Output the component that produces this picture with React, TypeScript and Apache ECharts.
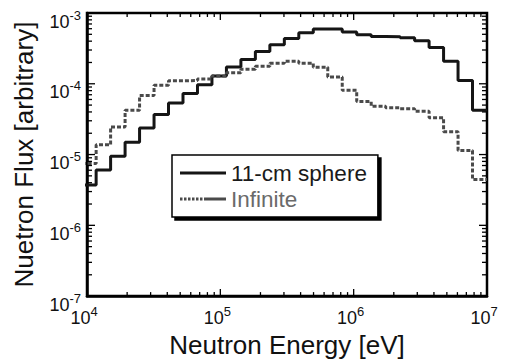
import React, { useEffect, useRef } from "react";
import * as echarts from "echarts";

// Bin edges (eV), equal-lethargy groups
const binEdges = [
  9119, 11709, 15034, 19305, 24788, 31828, 40868, 52475, 67379, 86517,
  111090, 142642, 183156, 235177, 301974, 387742, 497871, 639279, 820850,
  1053992, 1353353, 1737739, 2231302, 2865048, 3678794, 4723666, 6065307,
  7788008, 10000000,
];

// Flux per bin (arbitrary units)
const sphereFlux = [
  3.72e-6, 6.04e-6, 9.44e-6, 1.49e-5, 2.38e-5, 3.69e-5, 5.33e-5, 7.28e-5,
  9.67e-5, 1.29e-4, 1.72e-4, 2.21e-4, 2.86e-4, 3.57e-4, 4.37e-4, 5.24e-4,
  5.95e-4, 5.95e-4, 5.41e-4, 4.91e-4, 4.66e-4, 4.61e-4, 4.47e-4, 4.06e-4,
  3.25e-4, 2.08e-4, 1.11e-4, 4.22e-5,
];
const infiniteFlux = [
  7.46e-6, 1.37e-5, 2.46e-5, 4.22e-5, 6.81e-5, 9.55e-5, 1.1e-4, 1.11e-4,
  1.17e-4, 1.29e-4, 1.43e-4, 1.61e-4, 1.77e-4, 1.95e-4, 2.08e-4, 1.95e-4,
  1.71e-4, 1.25e-4, 8.07e-5, 5.62e-5, 4.8e-5, 4.59e-5, 4.44e-5, 4.09e-5,
  3.3e-5, 2.1e-5, 1.14e-5, 4.44e-6,
];

const seriesNames = ["11-cm sphere", "Infinite"];

const xMin = 1e4;
const xMax = 1e7;
const yMin = 1e-7;
const yMax = 1e-3;

const majorXTicks = [1e4, 1e5, 1e6, 1e7];
const minorXTicks = [
  2e4, 3e4, 4e4, 5e4, 6e4, 7e4, 8e4, 9e4,
  2e5, 3e5, 4e5, 5e5, 6e5, 7e5, 8e5, 9e5,
  2e6, 3e6, 4e6, 5e6, 6e6, 7e6, 8e6, 9e6,
];
const majorYTicks = [1e-7, 1e-6, 1e-5, 1e-4, 1e-3];
const minorYTicks = [
  2e-7, 3e-7, 4e-7, 5e-7, 6e-7, 7e-7, 8e-7, 9e-7,
  2e-6, 3e-6, 4e-6, 5e-6, 6e-6, 7e-6, 8e-6, 9e-6,
  2e-5, 3e-5, 4e-5, 5e-5, 6e-5, 7e-5, 8e-5, 9e-5,
  2e-4, 3e-4, 4e-4, 5e-4, 6e-4, 7e-4, 8e-4, 9e-4,
];

const FONT = "Liberation Sans, Arial, Helvetica, sans-serif";

const SOLID_ICON = "path://M0,0H46V3H0Z";
const DOTTED_ICON =
  "path://M0,0h2.5v3h-2.5z M4,0h2.5v3h-2.5z M8,0h2.5v3h-2.5z M12,0h2.5v3h-2.5z M16,0h2.5v3h-2.5z M20,0h2.5v3h-2.5z M24,0H46V3H24Z";

const toSteps = (vals: number[]) =>
  binEdges.map((e, i) => [e, vals[Math.min(i, vals.length - 1)]]);

const powLabel = (v: number) => {
  const e = Math.round(Math.log10(v));
  return "{b|10}{s|" + e + "}";
};

const richStyle = {
  b: { fontSize: 18, lineHeight: 22, verticalAlign: "bottom", color: "#111", fontFamily: FONT },
  s: { fontSize: 13, lineHeight: 15, verticalAlign: "top", color: "#111", fontFamily: FONT },
};

export default function App() {
  const ref = useRef<HTMLDivElement>(null);

  useEffect(() => {
    if (!ref.current) return;
    const chart = echarts.init(ref.current, null, { renderer: "svg" });

    const option: any = {
      animation: false,
      backgroundColor: "#fff",
      textStyle: { fontFamily: FONT },
      grid: {
        left: 87,
        right: 19,
        top: 13,
        bottom: 61,
        show: true,
        borderColor: "#000",
        borderWidth: 2.5,
        backgroundColor: "transparent",
      },
      legend: {
        orient: "vertical",
        left: 172,
        top: 155,
        padding: [5, 11, 5, 8],
        itemGap: 0,
        itemWidth: 46,
        itemHeight: 3,
        backgroundColor: "#fff",
        borderColor: "#000",
        borderWidth: 1.5,
        borderRadius: 0,
        shadowColor: "#000",
        shadowOffsetX: 3,
        shadowOffsetY: 3,
        shadowBlur: 0,
        textStyle: { fontFamily: FONT, fontSize: 22.5, lineHeight: 26 },
        data: [
          { name: seriesNames[0], icon: SOLID_ICON, textStyle: { color: "#1a1a1a" } },
          { name: seriesNames[1], icon: DOTTED_ICON, textStyle: { color: "#6a6a6a" } },
        ],
      },
      xAxis: {
        type: "log",
        logBase: 10,
        min: xMin,
        max: xMax,
        splitNumber: 3,
        name: "Neutron Energy [eV]",
        nameLocation: "middle",
        nameGap: 35,
        nameTextStyle: { fontSize: 26, color: "#111", fontFamily: FONT },
        axisLine: { show: true, lineStyle: { color: "#000", width: 2.5 } },
        axisTick: { show: false },
        splitLine: { show: false },
        axisLabel: {
          margin: 9,
          padding: [0, 6, 0, 0],
          formatter: powLabel,
          rich: richStyle,
        },
      },
      yAxis: {
        type: "log",
        logBase: 10,
        min: yMin,
        max: yMax,
        splitNumber: 4,
        name: "Nuetron Flux [arbitrary]",
        nameLocation: "middle",
        nameGap: 50,
        nameTextStyle: { fontSize: 26, color: "#111", fontFamily: FONT },
        axisLine: { show: true, lineStyle: { color: "#000", width: 2.5 } },
        axisTick: { show: false },
        splitLine: { show: false },
        axisLabel: {
          margin: 6,
          padding: [13, 0, 0, 0],
          formatter: powLabel,
          rich: richStyle,
        },
      },
      series: [
        {
          name: seriesNames[0],
          type: "line",
          step: "end",
          symbol: "none",
          z: 4,
          lineStyle: { color: "#151515", width: 3 },
          itemStyle: { color: "#151515" },
          data: toSteps(sphereFlux),
        },
        {
          name: seriesNames[1],
          type: "line",
          step: "end",
          symbol: "none",
          z: 5,
          lineStyle: { color: "#4a4a4a", width: 3, type: [4, 2] },
          itemStyle: { color: "#4a4a4a" },
          data: toSteps(infiniteFlux),
        },
        {
          name: "ticks",
          type: "custom",
          silent: true,
          clip: false,
          z: 6,
          data: [[xMin, yMin]],
          renderItem: (_params: any, api: any) => {
            const children: any[] = [];
            const seg = (x1: number, y1: number, x2: number, y2: number) =>
              children.push({
                type: "line",
                shape: { x1, y1, x2, y2 },
                style: { stroke: "#000", lineWidth: 1.3 },
              });
            const xt = [
              ...majorXTicks.map((v) => [v, 7]),
              ...minorXTicks.map((v) => [v, 4]),
            ];
            for (const [v, len] of xt) {
              const pb = api.coord([v, yMin]);
              const pt = api.coord([v, yMax]);
              seg(pb[0], pb[1], pb[0], pb[1] - len);
              seg(pt[0], pt[1], pt[0], pt[1] + len);
            }
            const yt = [
              ...majorYTicks.map((v) => [v, 8]),
              ...minorYTicks.map((v) => [v, 5]),
            ];
            for (const [v, len] of yt) {
              const pl = api.coord([xMin, v]);
              const pr = api.coord([xMax, v]);
              seg(pl[0], pl[1], pl[0] + len, pl[1]);
              seg(pr[0], pr[1], pr[0] - len, pr[1]);
            }
            return { type: "group", children };
          },
        },
      ],
    };

    chart.setOption(option);
    return () => chart.dispose();
  }, []);

  return (
    <div
      ref={ref}
      style={{ position: "fixed", left: 0, top: 0, width: 506, height: 363 }}
    />
  );
}
